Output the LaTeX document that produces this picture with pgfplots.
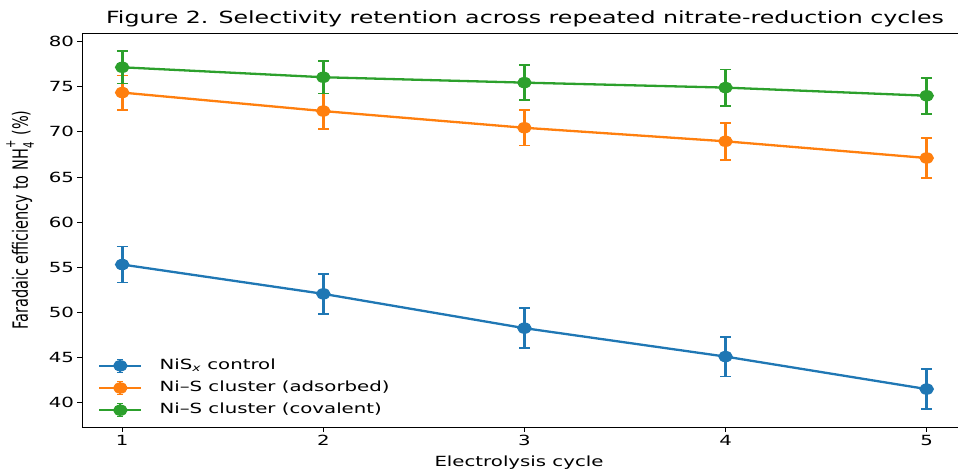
\documentclass[border=0pt]{standalone}
\usepackage{fontspec}
\setmainfont{DejaVu Sans}[FakeStretch=1.41]
\newfontfamily\ylfont{DejaVu Sans}
\usepackage{graphicx}
\usepackage{pgfplots}
\pgfplotsset{compat=1.18}
\definecolor{tabblue}{HTML}{1F77B4}
\definecolor{taborange}{HTML}{FF7F0E}
\definecolor{tabgreen}{HTML}{2CA02C}

\pgfplotstableread{
x y e
1 55.30 2.00
2 52.05 2.20
3 48.25 2.20
4 45.10 2.20
5 41.50 2.20
}\blue
\pgfplotstableread{
x y e
1 74.35 1.90
2 72.30 1.95
3 70.45 1.95
4 68.95 2.05
5 67.10 2.20
}\orange
\pgfplotstableread{
x y e
1 77.15 1.80
2 76.05 1.80
3 75.45 1.95
4 74.90 2.00
5 74.00 2.00
}\green

\begin{document}
\begin{tikzpicture}
\path[use as bounding box] (-82pt,-44pt) rectangle (876pt,427pt);
\begin{axis}[
  at={(0pt,0pt)}, anchor=south west,
  scale only axis, width=876pt, height=394pt,
  xmin=0.8, xmax=5.156, ymin=37.3, ymax=80.95,
  axis y line*=left,
  xtick={1,2,3,4,5}, ytick={40,45,...,80},
  xtick pos=left, ytick pos=left,
  tick align=outside, major tick length=4.5pt,
  every tick/.style={black, line width=0.9pt},
  axis line style={black, line width=0.9pt},
  /pgf/number format/assume math mode=true,
  tick label style={font=\fontsize{14}{16}\selectfont},
  every axis plot/.append style={line width=2.3pt, mark=*, mark size=4.5pt,
     mark options={xscale=1.35, solid}},
  error bars/error bar style={line width=2.7pt},
  error bars/error mark options={line width=1.7pt, mark size=5.3pt, rotate=90},
  legend cell align=left,
  legend style={draw=none, fill=none, at={(0,0)}, anchor=south west,
     xshift=16pt, yshift=9pt, inner sep=0pt, row sep=7pt,
     font=\fontsize{14}{16}\selectfont,
     nodes={inner sep=0pt, text height=10pt, text depth=3pt},
     /tikz/every odd column/.append style={column sep=17pt}},
  legend image code/.code={
    \draw[#1,mark=none] (0pt,0pt) -- (42pt,0pt);
    \draw[#1,mark=none,line width=2.2pt] (21pt,-6.5pt) -- (21pt,6.5pt);
    \draw[#1,mark=none,line width=1.5pt] (18pt,-6.5pt) -- (24pt,-6.5pt) (18pt,6.5pt) -- (24pt,6.5pt);
    \draw[#1] plot coordinates {(21pt,0pt)};
  },
]
\addplot[color=tabblue, error bars/.cd, y dir=both, y explicit]
  table[x=x, y=y, y error=e] {\blue};
\addlegendentry{NiS\textsubscript{\textit{x}} control}
\addplot[color=taborange, error bars/.cd, y dir=both, y explicit]
  table[x=x, y=y, y error=e] {\orange};
\addlegendentry{Ni–S cluster (adsorbed)}
\addplot[color=tabgreen, error bars/.cd, y dir=both, y explicit]
  table[x=x, y=y, y error=e] {\green};
\addlegendentry{Ni–S cluster (covalent)}
\end{axis}
\node[anchor=base, font=\fontsize{16.8}{19}\selectfont] at (443pt,403pt)
  {Figure 2. Selectivity retention across repeated nitrate-reduction cycles};
\node[anchor=base, font=\fontsize{14}{16}\selectfont] at (437pt,-39pt)
  {Electrolysis cycle};
\node[rotate=90, inner sep=0pt] at (-62pt,207pt)
  {\ylfont\fontsize{14.5}{16}\selectfont\scalebox{1}[1.45]{Faradaic efficiency to NH\rlap{\raisebox{0.6em}{\fontsize{10}{10}\selectfont +}}\raisebox{-0.28em}{\fontsize{10}{10}\selectfont 4}\hspace{2.5pt} (\%)}};
\end{tikzpicture}
\end{document}
